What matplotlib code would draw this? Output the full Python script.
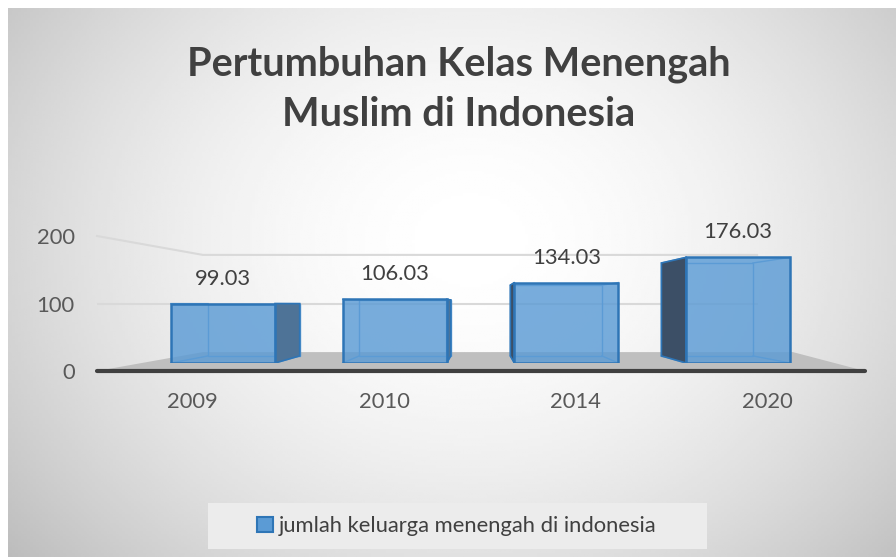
import matplotlib
matplotlib.use('Agg')
import matplotlib.pyplot as plt
import numpy as np
from matplotlib.patches import Polygon, Patch, Rectangle

years = ['2009', '2010', '2014', '2020']
values = [99.03, 106.03, 134.03, 176.03]
yticks = [0, 100, 200]
series_name = 'jumlah keluarga menengah di indonesia'
title = 'Pertumbuhan Kelas Menengah\nMuslim di Indonesia'

W, H = 896, 557
plt.rcParams['font.family'] = ['Lato', 'DejaVu Sans']
fs = 15.8


def px_rect(x0, y0, x1, y1):
    return [x0 / W, 1 - y1 / H, (x1 - x0) / W, (y1 - y0) / H]


fig = plt.figure(figsize=(W / 100, H / 100), dpi=100, facecolor='white')

# background gradient
bg = fig.add_axes(px_rect(8, 8, W, H), zorder=-10)
gx, gy = np.meshgrid(np.linspace(8, W, 300), np.linspace(8, H, 200))
d = np.sqrt(((gx - 470) / 560) ** 2 + ((gy - 240) / 460) ** 2)
shade = 1 - 0.23 * np.clip(d, 0, 1.3) ** 1.8
bg.imshow(shade, cmap='gray', vmin=0, vmax=1, aspect='auto', extent=[0, 1, 0, 1])
bg.axis('off')

# back axes: walls, gridlines, ticks
ax = fig.add_axes(px_rect(97, 236, 863, 371))
ax.set_xlim(-0.5, 3.5)
ax.set_ylim(0, 200)
ax.patch.set_visible(False)
for s in ax.spines.values():
    s.set_visible(False)
grid_c = '#d9d9d9'
ax.plot([-0.5, 2.947], [100, 100], color=grid_c, lw=1.5, zorder=1)
ax.plot([-0.5, 0.053, 2.947], [200, 172, 172], color=grid_c, lw=1.5, zorder=1, clip_on=False)
ax.add_patch(Polygon([(-0.5, 0), (0.053, 28), (3.134, 28), (3.51, 0)],
                     closed=True, facecolor='#bfbfbf', edgecolor='none', zorder=2))
ax.plot([-0.5, 3.51], [0, 0], color='#404040', lw=3, solid_capstyle='round', zorder=3, clip_on=False)
ax.set_yticks(yticks)
ax.set_xticks(range(len(years)))
ax.set_xticklabels(years)
ax.tick_params(length=0, labelsize=fs, labelcolor='#595959')
ax.tick_params(axis='y', pad=16)
ax.tick_params(axis='x', pad=15)

# front axes: bars
ax2 = fig.add_axes(px_rect(97, 236, 863, 363))
ax2.set_xlim((97 - 223) / 171.7, (863 - 223) / 171.7)
ax2.set_ylim(0, 127 / 0.6)
ax2.axis('off')

x = np.arange(len(values))
bw = 0.606
vp = np.array([1.5, 98.3])
k = 0.88


def back(p):
    return vp + k * (np.array(p) - vp)


for xi, v in zip(x, values):
    l, r = xi - bw / 2, xi + bw / 2
    front = [(l, 0), (r, 0), (r, v), (l, v)]
    bk = [back(p) for p in front]
    # inner edges seen through the glass
    ax2.add_patch(Polygon(bk, closed=True, fill=False, edgecolor='#5b9bd5', lw=1, zorder=2))
    for p, q in zip(front, bk):
        ax2.plot([p[0], q[0]], [p[1], q[1]], color='#5b9bd5', lw=1, zorder=2)
    # visible side face
    if xi < vp[0]:
        side = [front[1], bk[1], bk[2], front[2]]
        sc = '#4e7397'
    else:
        side = [front[0], bk[0], bk[3], front[3]]
        sc = '#3c4f66'
    ax2.add_patch(Polygon(side, closed=True, facecolor=sc, edgecolor='#2e75b6', lw=1.2, zorder=3))

ax2.bar(x, values, width=bw, color='#5b9bd5', alpha=0.82, edgecolor='none', zorder=4)
ax2.bar(x, values, width=bw, fill=False, edgecolor='#2e75b6', lw=1.8, zorder=5)

for xi, v in zip(x, values):
    ax2.annotate(f'{v:.2f}', (xi, v), xytext=(0, 18), textcoords='offset points',
                 ha='center', va='center', fontsize=fs, color='#404040', annotation_clip=False)

fig.text(459 / W, 1 - 89 / H, title, ha='center', va='center', fontsize=28.5,
         fontweight='bold', color='#404040', linespacing=1.42)

# legend
fig.patches.append(Rectangle((208 / W, 1 - 549 / H), 499 / W, 46 / H, transform=fig.transFigure,
                             facecolor='#ececec', edgecolor='none', zorder=-5))
fig.legend(handles=[Patch(facecolor='#5b9bd5', edgecolor='#2e75b6', lw=1.5)], labels=[series_name],
           loc='center', bbox_to_anchor=(457 / W, 1 - 526 / H), frameon=False,
           handlelength=0.7, handleheight=0.7, handletextpad=0.3,
           prop={'size': fs}, labelcolor='#404040')

fig.savefig('out.png', dpi=100)
